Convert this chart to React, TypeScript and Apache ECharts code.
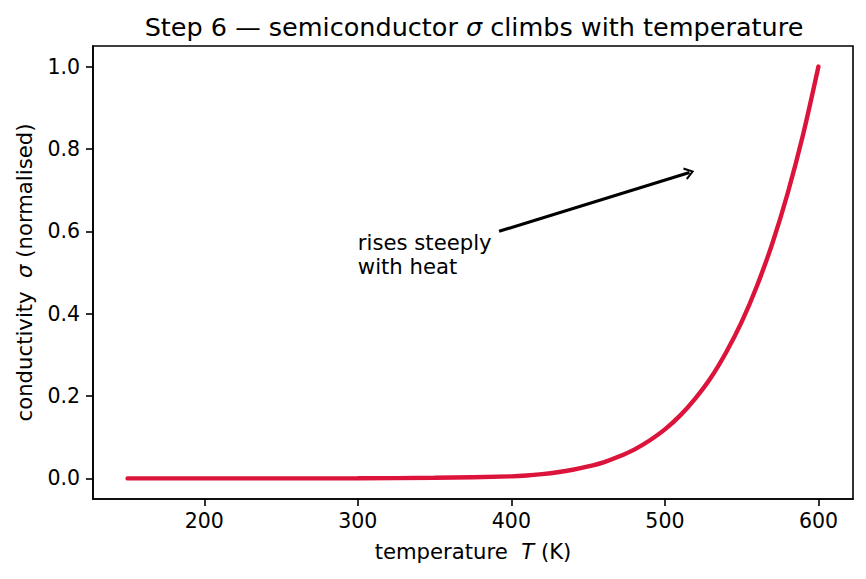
import React, { useEffect, useRef } from "react";
import * as echarts from "echarts";

const temperatures = [150, 200, 250, 300, 350, 400, 410, 420, 430, 440, 450, 460, 470, 480, 490, 500, 510, 520, 530, 540, 550, 560, 570, 580, 590, 600];
const conductivity = [0, 0, 0, 0.0004, 0.0015, 0.005, 0.007, 0.0105, 0.015, 0.021, 0.029, 0.039, 0.053, 0.070, 0.092, 0.119, 0.153, 0.195, 0.245, 0.307, 0.38, 0.468, 0.571, 0.693, 0.835, 1.0];
const xTicks = [200, 300, 400, 500, 600];
const yTicks = [0, 0.2, 0.4, 0.6, 0.8, 1.0];
const annotationText = "rises steeply\nwith heat";
const annotationAt = [300, 0.5];
const arrowFrom = [392, 0.6];
const arrowTo = [516, 0.743];

const FONT = "DejaVu Sans";

export default function App() {
  const ref = useRef<HTMLDivElement>(null);
  useEffect(() => {
    document.body.style.margin = "0";
    const chart = echarts.init(ref.current!, null, { renderer: "svg" });
    const data = temperatures.map((t, i) => [t, conductivity[i]]);
    const richLabel = (size: number) => ({
      a: { fontFamily: FONT, fontSize: size, fontWeight: "normal", color: "#000", lineHeight: size * 1.2 },
      i: { fontFamily: FONT, fontSize: size, fontWeight: "normal", fontStyle: "italic", color: "#000", lineHeight: size * 1.2 },
    });
    chart.setOption({
      animation: false,
      backgroundColor: "#ffffff",
      textStyle: { fontFamily: FONT },
      title: {
        text: "{a|Step 6 — semiconductor }{i|σ}{a| climbs with temperature}",
        left: 469,
        top: 7,
        textAlign: "center",
        textStyle: { fontWeight: "normal", rich: richLabel(25.5) },
      },
      grid: {
        left: 93,
        right: 13,
        top: 46,
        bottom: 80,
        show: true,
        borderColor: "#000",
        borderWidth: 1.6,
        backgroundColor: "transparent",
      },
      xAxis: {
        type: "value",
        min: 127.5,
        max: 622.5,
        name: "{a|temperature  }{i|T}{a| (K)}",
        nameLocation: "middle",
        nameGap: 40,
        nameTextStyle: { rich: richLabel(21.2) },
        axisLine: { show: true, onZero: false, lineStyle: { color: "#000", width: 1.6 } },
        axisTick: { show: true, length: 7, customValues: xTicks, lineStyle: { color: "#000", width: 1.6 } },
        axisLabel: {
          customValues: xTicks,
          margin: 11,
          fontFamily: FONT,
          fontSize: 20.5,
          color: "#000",
        },
        splitLine: { show: false },
      },
      yAxis: {
        type: "value",
        min: -0.05,
        max: 1.05,
        name: "{a|conductivity  }{i|σ}{a| (normalised)}",
        nameLocation: "middle",
        nameGap: 56,
        nameTextStyle: { rich: richLabel(21.2) },
        axisLine: { show: true, onZero: false, lineStyle: { color: "#000", width: 1.6 } },
        axisTick: { show: true, length: 7, customValues: yTicks, lineStyle: { color: "#000", width: 1.6 } },
        axisLabel: {
          customValues: yTicks,
          margin: 13,
          fontFamily: FONT,
          fontSize: 20.5,
          color: "#000",
          formatter: (v: number) => v.toFixed(1),
        },
        splitLine: { show: false },
      },
      series: [
        {
          type: "line",
          data,
          smooth: 0.3,
          showSymbol: false,
          symbol: "none",
          lineStyle: { color: "#dc143c", width: 4.4, cap: "round" },
          markLine: {
            silent: true,
            symbol: ["none", "path://M0,10 L5,0 L10,10 L8.4,11 L5,3.6 L1.6,11 Z"],
            symbolSize: [13, 10],
            label: { show: false },
            lineStyle: { color: "#000", width: 3.2, type: "solid" },
            data: [[{ coord: arrowFrom }, { coord: arrowTo }]],
          },
          markPoint: {
            silent: true,
            symbol: "circle",
            symbolSize: 0,
            data: [{ coord: annotationAt }],
            label: {
              show: true,
              formatter: annotationText,
              position: [0, 0],
              align: "left",
              verticalAlign: "bottom",
              offset: [0, 6],
              fontFamily: FONT,
              fontSize: 21.2,
              lineHeight: 24,
              color: "#000",
            },
          },
        },
      ],
    });
    return () => chart.dispose();
  }, []);
  return <div ref={ref} style={{ width: 866, height: 579 }} />;
}
